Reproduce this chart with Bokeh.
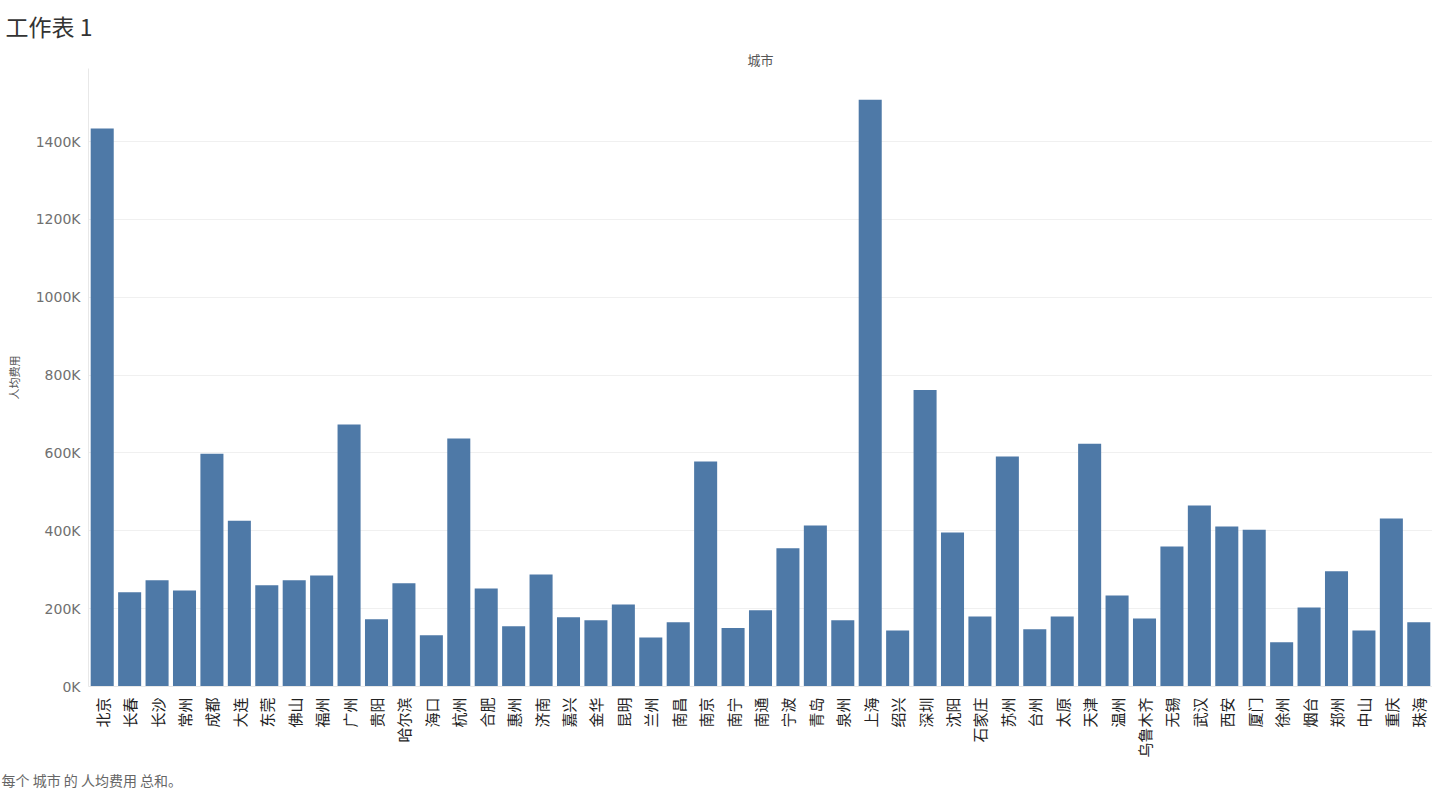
from bokeh.plotting import figure
from bokeh.models import ColumnDataSource, Range1d, Title, CustomJSTickFormatter
from bokeh.embed import file_html
from bokeh.resources import INLINE
import math

cities = ["北京", "长春", "长沙", "常州", "成都", "大连", "东莞", "佛山", "福州", "广州",
          "贵阳", "哈尔滨", "海口", "杭州", "合肥", "惠州", "济南", "嘉兴", "金华", "昆明",
          "兰州", "南昌", "南京", "南宁", "南通", "宁波", "青岛", "泉州", "上海", "绍兴",
          "深圳", "沈阳", "石家庄", "苏州", "台州", "太原", "天津", "温州", "乌鲁木齐", "无锡",
          "武汉", "西安", "厦门", "徐州", "烟台", "郑州", "中山", "重庆", "珠海"]
cost = [1434000, 242000, 273000, 247000, 598000, 426000, 260000, 273000, 285000, 673000,
        173000, 265000, 132000, 637000, 252000, 155000, 288000, 178000, 170000, 211000,
        126000, 165000, 578000, 150000, 196000, 355000, 414000, 170000, 1508000, 144000,
        762000, 396000, 180000, 591000, 147000, 180000, 624000, 234000, 175000, 360000,
        465000, 411000, 403000, 114000, 203000, 296000, 144000, 432000, 165000]

title_text = "工作表 1"
column_header = "城市"
y_label = "人均费用"
footer_text = "每个 城市 的 人均费用 总和。"

CJK = "Noto Sans CJK SC"

src = ColumnDataSource(dict(city=cities, cost=cost))

p = figure(width=1432, height=796, x_range=cities, y_range=Range1d(0, 1588000),
           output_backend="svg", toolbar_location=None,
           min_border_left=88, min_border_right=0, min_border_top=68, min_border_bottom=109)
p.outline_line_color = None
p.background_fill_color = "white"
p.title.text = ""

p.vbar(x="city", top="cost", width=0.84, source=src, color="#4e79a7", line_color=None)

# grids
p.xgrid.grid_line_color = None
p.ygrid.grid_line_color = "#f0f0f0"
p.ygrid.grid_line_width = 1

# y axis
p.yaxis.ticker = [0, 200000, 400000, 600000, 800000, 1000000, 1200000, 1400000]
p.yaxis.formatter = CustomJSTickFormatter(code="return (tick/1000).toFixed(0) + 'K';")
p.yaxis.major_label_text_font = "DejaVu Sans"
p.yaxis.major_label_text_font_size = "14px"
p.yaxis.major_label_text_color = "#707070"
p.yaxis.major_tick_line_color = None
p.yaxis.minor_tick_line_color = None
p.yaxis.major_label_standoff = 2
p.yaxis.axis_line_color = "#e8e8e8"
p.yaxis.axis_label = y_label
p.yaxis.axis_label_text_font = CJK
p.yaxis.axis_label_text_font_size = "11px"
p.yaxis.axis_label_text_font_style = "normal"
p.yaxis.axis_label_text_color = "#555555"
p.yaxis.axis_label_standoff = 11

# x axis
p.xaxis.major_label_orientation = math.pi / 2
p.xaxis.major_label_text_font = CJK
p.xaxis.major_label_text_font_size = "15px"
p.xaxis.major_label_text_color = "#222222"
p.xaxis.major_tick_line_color = None
p.xaxis.minor_tick_line_color = None
p.xaxis.major_label_standoff = 5
p.xaxis.axis_line_color = "#e8e8e8"
p.x_range.range_padding = 0

FRAME_LEFT = 88

header = Title(text=column_header, align="center", text_font=CJK, text_font_size="13px",
               text_color="#555555", text_font_style="normal", standoff=0)
main_title = Title(text=title_text, align="left", offset=5 - FRAME_LEFT, text_font=CJK,
                   text_font_size="23px", text_color="#333333", text_font_style="normal",
                   standoff=10)
p.add_layout(header, "above")
p.add_layout(main_title, "above")

footer = Title(text=footer_text, align="left", offset=1 - FRAME_LEFT, text_font=CJK,
               text_font_size="14px", text_color="#666666", text_font_style="normal",
               standoff=14)
p.add_layout(footer, "below")

open("out.html", "w").write(file_html(p, INLINE))
